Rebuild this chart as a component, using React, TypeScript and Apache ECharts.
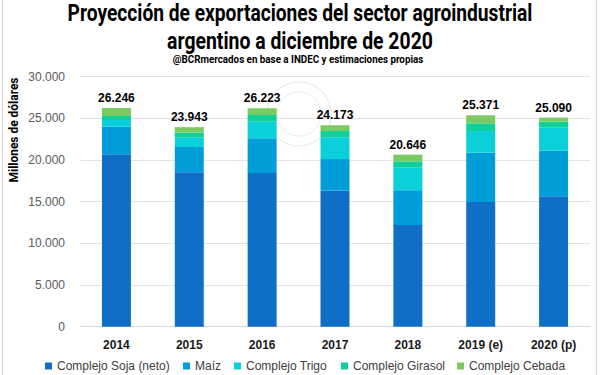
import React, { useEffect, useRef } from "react";
import * as echarts from "echarts";

const categories = ["2014", "2015", "2016", "2017", "2018", "2019 (e)", "2020 (p)"];
const soja = [20690, 18530, 18440, 16320, 12200, 14960, 15650];
const maiz = [3310, 3030, 4160, 3800, 4170, 5920, 5470];
const trigo = [800, 1170, 2000, 2610, 2710, 2600, 2760];
const girasol = [480, 550, 800, 750, 770, 920, 720];
const cebada = [966, 663, 823, 693, 796, 971, 490];
const totals = [26246, 23943, 26223, 24173, 20646, 25371, 25090];
const seriesNames = ["Complejo Soja (neto)", "Maíz", "Complejo Trigo", "Complejo Girasol", "Complejo Cebada"];
const colors = ["#0F6FC6", "#009DD9", "#0BD0D9", "#10CF9B", "#7CCA62"];

const FONT = "'Liberation Sans', Arial, sans-serif";

function fmt(v: number): string {
  return String(Math.round(v)).replace(/\B(?=(\d{3})+(?!\d))/g, ".");
}

function measure(text: string, font: string): number {
  const c = document.createElement("canvas").getContext("2d");
  if (!c) return text.length * 10;
  c.font = font;
  return c.measureText(text).width;
}

function fitText(text: string, x: number, y: number, size: number, target: number, extra: any = {}) {
  const family = "Roboto";
  const w = measure(text, `bold ${size}px ${family}`);
  return {
    type: "text",
    x,
    y,
    scaleX: target / w,
    z: 10,
    ...extra,
    style: {
      text,
      fontSize: size,
      fontWeight: "bold",
      fontFamily: family,
      fill: "#000000",
      align: "center",
      verticalAlign: "middle",
      textAlign: "center",
      textVerticalAlign: "middle",
    },
  };
}

export default function App() {
  const ref = useRef<HTMLDivElement>(null);
  useEffect(() => {
    if (!ref.current) return;
    const chart = echarts.init(ref.current, null, { renderer: "svg" });
    const data = [soja, maiz, trigo, girasol, cebada];
    const legendLefts = [45, 183, 234, 341, 457];
    const series = seriesNames.map((name, i) => ({
      name,
      type: "bar",
      stack: "total",
      barWidth: 29,
      data: data[i],
      itemStyle: { color: colors[i] },
      label:
        i === seriesNames.length - 1
          ? {
              show: true,
              position: "top",
              distance: 4,
              fontFamily: FONT,
              fontWeight: "bold",
              fontSize: 12,
              color: "#000000",
              formatter: (p: any) => fmt(totals[p.dataIndex]),
            }
          : { show: false },
    }));
    chart.setOption({
      animation: false,
      backgroundColor: "#ffffff",
      grid: { left: 80, right: 10, top: 76.7, bottom: 48.3 },
      legend: seriesNames.map((name, i) => ({
        data: [name],
        left: legendLefts[i],
        top: 360,
        padding: 0,
        icon: "rect",
        itemWidth: 7,
        itemHeight: 7,
        textStyle: { fontFamily: FONT, fontSize: 12, color: "#404040" },
      })),
      xAxis: {
        type: "category",
        data: categories,
        axisLine: { lineStyle: { color: "#d9d9d9" } },
        axisTick: { show: false },
        axisLabel: { fontFamily: FONT, fontWeight: "bold", fontSize: 12, color: "#1a1a1a", margin: 12 },
      },
      yAxis: {
        type: "value",
        min: 0,
        max: 30000,
        interval: 5000,
        axisLine: { show: false },
        axisTick: { show: false },
        splitLine: { lineStyle: { color: "#e3e3e3" } },
        axisLabel: { fontFamily: FONT, fontSize: 12, color: "#595959", margin: 15, formatter: (v: number) => fmt(v) },
      },
      graphic: [
        {
          type: "rect",
          shape: { x: 2.5, y: -5, width: 594, height: 385 },
          style: { fill: "none", stroke: "#d4d4d4", lineWidth: 1 },
          silent: true,
        },
        {
          type: "circle",
          shape: { cx: 299, cy: 114, r: 32 },
          style: { fill: "none", stroke: "#e6e6e6", lineWidth: 1 },
          silent: true,
          z: -1,
        },
        {
          type: "circle",
          shape: { cx: 299, cy: 114, r: 22 },
          style: { fill: "none", stroke: "#ececec", lineWidth: 1 },
          silent: true,
          z: -1,
        },
        fitText("Proyección de exportaciones del sector agroindustrial", 300, 13, 24, 465),
        fitText("argentino a diciembre de 2020", 300, 41, 24, 266),
        fitText("@BCRmercados en base a INDEC y estimaciones propias", 298, 59, 11, 251),
        fitText("Millones de dólares", 14, 130, 12, 105, { rotation: Math.PI / 2 }),
      ],
      series,
    });
    return () => chart.dispose();
  }, []);
  return <div ref={ref} style={{ position: "fixed", left: 0, top: 0, width: 600, height: 375 }} />;
}
